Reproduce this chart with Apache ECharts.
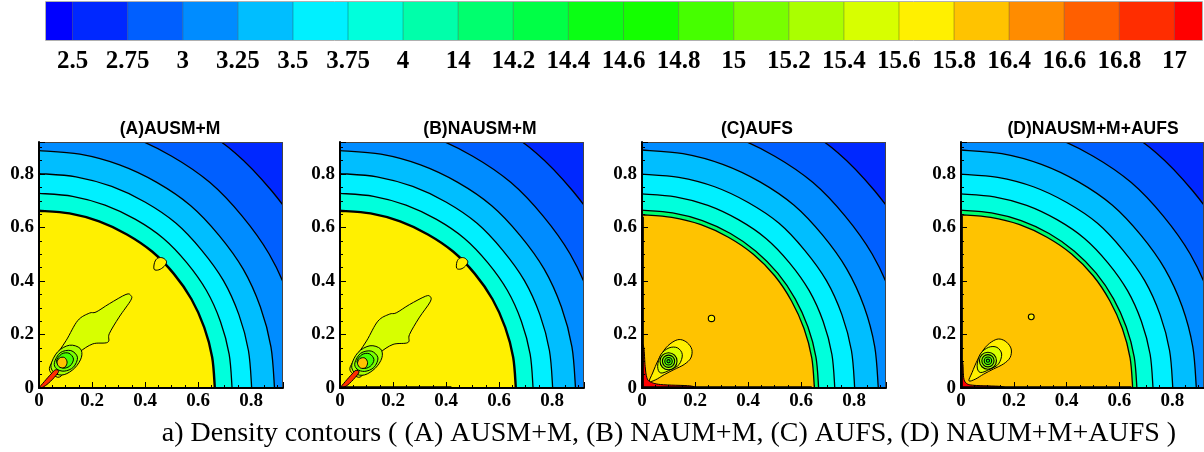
<!DOCTYPE html>
<html>
<head>
<meta charset="utf-8">
<script src="https://cdn.jsdelivr.net/npm/echarts@6/dist/echarts.min.js"></script>
<style>
  html, body { margin: 0; padding: 0; background: #ffffff; }
  #chart { width: 1204px; height: 452px; }
</style>
</head>
<body>
<div id="chart"></div>
<script>
// Density contour levels shown in the legend bar
const levelLabels = ['2.5', '2.75', '3', '3.25', '3.5', '3.75', '4', '14', '14.2', '14.4', '14.6', '14.8',
  '15', '15.2', '15.4', '15.6', '15.8', '16.4', '16.6', '16.8', '17'];

// Fill colour of each band: below the first level, between neighbouring levels, above the last
const bandColors = ['#0000FF', '#0028FF', '#005FFF', '#008CFF', '#00BEFF', '#00F0FF', '#00FFDC', '#00FFAA',
  '#00FF6E', '#00FF46', '#0AFF14', '#14FF00', '#46FF00', '#78FF00', '#AAFF00', '#D7FF00', '#FFF000',
  '#FFC300', '#FF8C00', '#FF5F00', '#FF2D00', '#FF0000'];

const panelTitles = ['(A)AUSM+M', '(B)NAUSM+M', '(C)AUFS', '(D)NAUSM+M+AUFS'];
const captionText = 'a) Density contours ( (A) AUSM+M, (B) NAUM+M, (C) AUFS, (D) NAUM+M+AUFS )';

// Band found beyond the outermost contour of every panel
const outerBand = 1;

// Angles (degrees from the x axis) at which the quarter-circle contours are sampled
const ringAngles = [0, 10, 20, 30, 40, 50, 60, 70, 80, 90];

// Each row: band inside the contour, then the contour radius at every ring angle (outermost first)
const ringsA = [
  [2, 1.148, 1.148, 1.148, 1.148, 1.146, 1.149, 1.147, 1.148, 1.148, 1.148],
  [3, 1.002, 1.002, 1.002, 1.002, 1.000, 1.003, 1.001, 1.002, 1.002, 1.002],
  [4, 0.888, 0.888, 0.888, 0.889, 0.887, 0.890, 0.888, 0.888, 0.888, 0.888],
  [5, 0.802, 0.802, 0.802, 0.803, 0.801, 0.804, 0.802, 0.802, 0.802, 0.802],
  [6, 0.728, 0.728, 0.728, 0.729, 0.728, 0.730, 0.728, 0.728, 0.728, 0.728],
  [16, 0.663, 0.663, 0.663, 0.664, 0.664, 0.665, 0.663, 0.663, 0.663, 0.663]
];
const ringsB = [
  [2, 1.148, 1.148, 1.148, 1.148, 1.146, 1.149, 1.147, 1.148, 1.148, 1.148],
  [3, 1.002, 1.002, 1.002, 1.002, 1.000, 1.003, 1.001, 1.002, 1.002, 1.002],
  [4, 0.888, 0.888, 0.888, 0.889, 0.887, 0.890, 0.888, 0.888, 0.888, 0.888],
  [5, 0.802, 0.802, 0.802, 0.803, 0.801, 0.804, 0.802, 0.802, 0.802, 0.802],
  [6, 0.728, 0.728, 0.728, 0.729, 0.728, 0.730, 0.728, 0.728, 0.728, 0.728],
  [16, 0.663, 0.663, 0.663, 0.664, 0.664, 0.665, 0.663, 0.663, 0.663, 0.663]
];
const ringsC = [
  [2, 1.148, 1.148, 1.148, 1.148, 1.146, 1.149, 1.147, 1.148, 1.148, 1.148],
  [3, 1.002, 1.002, 1.002, 1.002, 1.000, 1.003, 1.001, 1.002, 1.002, 1.002],
  [4, 0.891, 0.891, 0.891, 0.891, 0.889, 0.892, 0.890, 0.890, 0.890, 0.890],
  [5, 0.802, 0.802, 0.802, 0.803, 0.801, 0.804, 0.801, 0.801, 0.800, 0.800],
  [6, 0.727, 0.727, 0.727, 0.728, 0.727, 0.729, 0.727, 0.727, 0.726, 0.726],
  [8, 0.666, 0.666, 0.666, 0.667, 0.668, 0.668, 0.667, 0.666, 0.665, 0.665],
  [17, 0.650, 0.650, 0.650, 0.651, 0.653, 0.653, 0.651, 0.650, 0.648, 0.648]
];
const ringsD = [
  [2, 1.148, 1.148, 1.148, 1.148, 1.146, 1.149, 1.147, 1.148, 1.148, 1.148],
  [3, 1.002, 1.002, 1.002, 1.002, 1.000, 1.003, 1.001, 1.002, 1.002, 1.002],
  [4, 0.891, 0.891, 0.891, 0.891, 0.889, 0.892, 0.890, 0.890, 0.890, 0.890],
  [5, 0.802, 0.802, 0.802, 0.803, 0.801, 0.804, 0.801, 0.801, 0.800, 0.800],
  [6, 0.727, 0.727, 0.727, 0.728, 0.727, 0.729, 0.727, 0.727, 0.726, 0.726],
  [8, 0.666, 0.666, 0.666, 0.667, 0.668, 0.668, 0.667, 0.666, 0.665, 0.665],
  [17, 0.650, 0.650, 0.650, 0.651, 0.653, 0.653, 0.651, 0.650, 0.648, 0.648]
];

// Closed contour islands: [band inside, outline points (x, y)]
const islandsA = [
  [16, [[0.434, 0.444], [0.436, 0.470], [0.448, 0.486], [0.468, 0.486], [0.481, 0.472], [0.472, 0.455], [0.452, 0.442]]],
  [15, [[0.040, 0.065], [0.052, 0.102], [0.102, 0.177], [0.146, 0.252], [0.190, 0.280], [0.215, 0.284], [0.265, 0.315],
        [0.328, 0.350], [0.346, 0.346], [0.346, 0.328], [0.302, 0.265], [0.265, 0.203], [0.259, 0.171], [0.203, 0.165],
        [0.152, 0.134], [0.121, 0.102], [0.096, 0.059], [0.071, 0.040]]],
  [14, [[0.045, 0.085], [0.070, 0.135], [0.115, 0.160], [0.155, 0.148], [0.160, 0.115], [0.135, 0.075], [0.095, 0.050], [0.060, 0.055]]],
  [13, [[0.058, 0.095], [0.080, 0.132], [0.120, 0.140], [0.145, 0.115], [0.130, 0.078], [0.095, 0.063], [0.066, 0.072]]],
  [12, [[0.066, 0.100], [0.085, 0.127], [0.113, 0.130], [0.130, 0.108], [0.116, 0.082], [0.088, 0.075]]],
  [17, [[0.068, 0.094], [0.077, 0.112], [0.096, 0.114], [0.106, 0.097], [0.098, 0.078], [0.079, 0.077]]],
  [20, [[0.000, 0.000], [0.020, 0.024], [0.045, 0.052], [0.062, 0.068], [0.074, 0.062], [0.058, 0.040], [0.030, 0.013], [0.008, 0.000]]]
];
const islandsB = [
  [16, [[0.440, 0.448], [0.441, 0.472], [0.452, 0.486], [0.470, 0.486], [0.482, 0.472], [0.473, 0.456], [0.456, 0.445]]],
  [15, [[0.038, 0.066], [0.050, 0.100], [0.100, 0.176], [0.143, 0.250], [0.186, 0.276], [0.212, 0.281], [0.262, 0.312],
        [0.322, 0.343], [0.340, 0.342], [0.340, 0.322], [0.298, 0.262], [0.262, 0.200], [0.256, 0.170], [0.200, 0.163],
        [0.150, 0.132], [0.119, 0.100], [0.094, 0.058], [0.069, 0.040]]],
  [14, [[0.044, 0.085], [0.068, 0.133], [0.113, 0.158], [0.153, 0.146], [0.158, 0.113], [0.133, 0.074], [0.093, 0.049], [0.058, 0.054]]],
  [13, [[0.056, 0.094], [0.078, 0.130], [0.118, 0.138], [0.143, 0.113], [0.128, 0.077], [0.093, 0.062], [0.064, 0.071]]],
  [12, [[0.064, 0.099], [0.083, 0.125], [0.111, 0.128], [0.128, 0.106], [0.114, 0.081], [0.086, 0.074]]],
  [17, [[0.066, 0.092], [0.075, 0.110], [0.094, 0.112], [0.104, 0.095], [0.096, 0.076], [0.077, 0.075]]],
  [20, [[0.000, 0.000], [0.020, 0.024], [0.045, 0.052], [0.060, 0.066], [0.072, 0.060], [0.056, 0.038], [0.030, 0.012], [0.008, 0.000]]]
];
const islandsC = [
  [21, [[0.000, 0.000], [0.000, 0.150], [0.007, 0.150], [0.012, 0.080], [0.018, 0.040], [0.030, 0.024], [0.070, 0.013],
        [0.180, 0.008], [0.180, 0.000]]],
  [16, [[0.028, 0.025], [0.040, 0.056], [0.062, 0.106], [0.090, 0.150], [0.121, 0.175], [0.146, 0.181], [0.171, 0.169],
        [0.188, 0.144], [0.184, 0.112], [0.159, 0.088], [0.121, 0.069], [0.084, 0.050], [0.052, 0.031]]],
  [15, [[0.059, 0.081], [0.071, 0.125], [0.102, 0.150], [0.134, 0.150], [0.152, 0.125], [0.140, 0.088], [0.109, 0.069], [0.071, 0.056]]]
];
const islandsD = [
  [21, [[0.000, 0.000], [0.000, 0.095], [0.007, 0.092], [0.010, 0.040], [0.020, 0.018], [0.050, 0.010], [0.150, 0.006],
        [0.150, 0.000]]],
  [16, [[0.030, 0.027], [0.042, 0.058], [0.064, 0.108], [0.092, 0.152], [0.123, 0.177], [0.148, 0.183], [0.173, 0.171],
        [0.190, 0.146], [0.186, 0.114], [0.161, 0.090], [0.123, 0.071], [0.086, 0.052], [0.054, 0.033]]],
  [15, [[0.061, 0.083], [0.073, 0.127], [0.104, 0.152], [0.136, 0.152], [0.154, 0.127], [0.142, 0.090], [0.111, 0.071], [0.073, 0.058]]]
];

// Round islands: [centre x, centre y, radius, band inside]
const spotsA = [];
const spotsB = [];
const spotsC = [[0.262, 0.260, 0.012, 16], [0.100, 0.100, 0.032, 14], [0.100, 0.100, 0.023, 13],
                [0.100, 0.100, 0.014, 12], [0.100, 0.100, 0.006, 11]];
const spotsD = [[0.266, 0.266, 0.011, 16], [0.102, 0.102, 0.032, 14], [0.102, 0.102, 0.023, 13],
                [0.102, 0.102, 0.014, 12], [0.102, 0.102, 0.006, 11]];

// Open contour lines running along the walls
const wallLinesA = [];
const wallLinesB = [[[0.000, 0.004], [0.420, 0.004]]];
const wallLinesC = [[[0.004, 0.000], [0.004, 0.640]], [[0.000, 0.004], [0.640, 0.004]]];
const wallLinesD = [[[0.004, 0.000], [0.004, 0.645]], [[0.000, 0.004], [0.645, 0.004]]];

const panels = [
  { rings: ringsA, islands: islandsA, spots: spotsA, walls: wallLinesA },
  { rings: ringsB, islands: islandsB, spots: spotsB, walls: wallLinesB },
  { rings: ringsC, islands: islandsC, spots: spotsC, walls: wallLinesC },
  { rings: ringsD, islands: islandsD, spots: spotsD, walls: wallLinesD }
];

// Plot frames of the four panels (pixels)
const panelBoxes = [
  { left: 39, top: 142, width: 244, height: 246 },
  { left: 340, top: 142, width: 244, height: 246 },
  { left: 642, top: 142, width: 244, height: 246 },
  { left: 961, top: 142, width: 244, height: 246 }
];
const titleCenters = [170, 480, 757, 1093];
const axisMax = 0.92;

// Smooth Catmull-Rom curve through pixel points, written as SVG path commands
function curveThrough(pts, closed) {
  const n = pts.length;
  const P = i => closed ? pts[(i + n) % n] : pts[Math.max(0, Math.min(n - 1, i))];
  const f = v => v.toFixed(2);
  let d = '';
  const segs = closed ? n : n - 1;
  for (let i = 0; i < segs; i++) {
    const p0 = P(i - 1), p1 = P(i), p2 = P(i + 1), p3 = P(i + 2);
    const c1x = p1[0] + (p2[0] - p0[0]) / 6, c1y = p1[1] + (p2[1] - p0[1]) / 6;
    const c2x = p2[0] - (p3[0] - p1[0]) / 6, c2y = p2[1] - (p3[1] - p1[1]) / 6;
    d += 'C' + f(c1x) + ' ' + f(c1y) + ' ' + f(c2x) + ' ' + f(c2y) + ' ' + f(p2[0]) + ' ' + f(p2[1]);
  }
  return d;
}

function panelRenderer(panel) {
  return function (params, api) {
    const cs = params.coordSys;
    const children = [];
    const px = p => api.coord(p);
    const mv = p => 'M' + p[0].toFixed(2) + ' ' + p[1].toFixed(2);

    // band beyond the outermost contour
    children.push({
      type: 'rect', shape: { x: cs.x, y: cs.y, width: cs.width, height: cs.height },
      style: { fill: bandColors[outerBand] }
    });

    // quarter-circle contour bands, outermost first
    const nRings = panel.rings.length;
    panel.rings.forEach((row, ri) => {
      const arc = ringAngles.map((a, i) => {
        const t = a * Math.PI / 180;
        return px([row[i + 1] * Math.cos(t), row[i + 1] * Math.sin(t)]);
      });
      const o = px([0, 0]);
      const curve = curveThrough(arc, false);
      children.push({
        type: 'path',
        shape: { pathData: mv(o) + 'L' + arc[0][0].toFixed(2) + ' ' + arc[0][1].toFixed(2) + curve + 'Z' },
        style: { fill: bandColors[row[0]], stroke: null }
      });
      const shockFront = ri === nRings - 1 && nRings === 6;
      children.push({
        type: 'path',
        shape: { pathData: mv(arc[0]) + curve },
        style: { fill: null, stroke: '#000', lineWidth: shockFront ? 2.4 : 1.3 }
      });
    });

    // closed islands
    panel.islands.forEach(isl => {
      const pts = isl[1].map(px);
      children.push({
        type: 'path',
        shape: { pathData: mv(pts[0]) + curveThrough(pts, true) + 'Z' },
        style: { fill: bandColors[isl[0]], stroke: '#000', lineWidth: 1 }
      });
    });

    // round islands
    panel.spots.forEach(s => {
      const c = px([s[0], s[1]]);
      const sz = api.size([s[2], s[2]]);
      children.push({
        type: 'circle',
        shape: { cx: c[0], cy: c[1], r: (sz[0] + sz[1]) / 2 },
        style: { fill: bandColors[s[3]], stroke: '#000', lineWidth: 1.1 }
      });
    });

    // contour lines hugging the walls
    panel.walls.forEach(w => {
      children.push({
        type: 'polyline', shape: { points: w.map(px) },
        style: { fill: null, stroke: '#000', lineWidth: 1.6 }
      });
    });

    // frame
    children.push({
      type: 'rect', shape: { x: cs.x + 0.5, y: cs.y + 0.5, width: cs.width - 1, height: cs.height - 1 },
      style: { fill: null, stroke: '#444', lineWidth: 1 }
    });

    return { type: 'group', children: children };
  };
}

const serifBold = { fontFamily: '"Liberation Serif", "Times New Roman", serif', fontWeight: 'bold', color: '#000' };

const grids = [], xAxes = [], yAxes = [], series = [];

panelBoxes.forEach((box, i) => {
  grids.push({ left: box.left, top: box.top, width: box.width, height: box.height, containLabel: false });
  const common = {
    type: 'value', gridIndex: i, min: 0, max: axisMax, interval: 0.2, z: 10,
    splitLine: { show: false },
    axisLine: { show: true, onZero: false, lineStyle: { color: '#000', width: 2 } },
    axisTick: { show: true, inside: true, length: 6, lineStyle: { color: '#000', width: 1 } },
    minorTick: { show: true, splitNumber: 4, length: 3, lineStyle: { color: '#000', width: 1 } },
    minorSplitLine: { show: false },
    axisLabel: Object.assign({ fontSize: 19, showMaxLabel: false }, serifBold)
  };
  xAxes.push(Object.assign({}, common, { axisLabel: Object.assign({}, common.axisLabel, { margin: 4 }) }));
  yAxes.push(Object.assign({}, common, { axisLabel: Object.assign({}, common.axisLabel, { margin: 5 }) }));
  series.push({
    type: 'custom', xAxisIndex: i, yAxisIndex: i, clip: true, silent: true,
    encode: { x: 0, y: 1 },
    data: [[0, 0]],
    renderItem: panelRenderer(panels[i])
  });
});

// Legend bar
grids.push({ left: 45, top: 2, width: 1157, height: 38 });
xAxes.push({
  type: 'category', gridIndex: 4, data: levelLabels, boundaryGap: true,
  axisLine: { show: false }, axisTick: { show: false }, splitLine: { show: false },
  axisLabel: Object.assign({ fontSize: 25, margin: 9, interval: 0 }, serifBold)
});
yAxes.push({ type: 'value', gridIndex: 4, min: 0, max: 1, show: false });
series.push({
  type: 'custom', xAxisIndex: 4, yAxisIndex: 4, silent: true,
  encode: { x: 0, y: 1 },
  data: bandColors.map((c, k) => [Math.min(k, levelLabels.length - 1), 0, k]),
  renderItem: function (params, api) {
    const k = api.value(2);
    const last = levelLabels.length - 1;
    const bw = api.size([1, 0])[0];
    const x0 = k === 0 ? api.coord([0, 0])[0] - bw / 2 : api.coord([k - 1, 0])[0];
    const x1 = k > last ? api.coord([last, 0])[0] + bw / 2 : api.coord([k, 0])[0];
    const yTop = api.coord([0, 1])[1];
    const yBot = api.coord([0, 0])[1];
    const children = [{
      type: 'rect', shape: { x: x0, y: yTop, width: x1 - x0, height: yBot - yTop },
      style: { fill: bandColors[k], stroke: null }
    }];
    if (k > 0) {
      children.push({ type: 'line', shape: { x1: x0, y1: yTop, x2: x0, y2: yBot },
        style: { stroke: 'rgba(0,0,0,0.28)', lineWidth: 1 } });
    }
    return { type: 'group', children: children };
  }
});

const graphics = panelTitles.map((t, i) => ({
  type: 'text', x: titleCenters[i], y: 129,
  style: {
    text: t, align: 'center', verticalAlign: 'middle',
    font: 'bold 17.5px "Liberation Sans", Arial, sans-serif', fill: '#000'
  }
}));
graphics.push({
  type: 'rect', shape: { x: 45.5, y: 1.5, width: 1157, height: 39 },
  style: { fill: null, stroke: '#b0b0b0', lineWidth: 1 }, z: 100
});
graphics.push({
  type: 'text', x: 669, y: 434,
  style: {
    text: captionText, align: 'center', verticalAlign: 'middle',
    font: '28px "Liberation Serif", "Times New Roman", serif', fill: '#000'
  }
});

const chart = echarts.init(document.getElementById('chart'));
chart.setOption({
  backgroundColor: '#ffffff',
  animation: false,
  grid: grids,
  xAxis: xAxes,
  yAxis: yAxes,
  series: series,
  graphic: graphics
});
</script>
</body>
</html>
